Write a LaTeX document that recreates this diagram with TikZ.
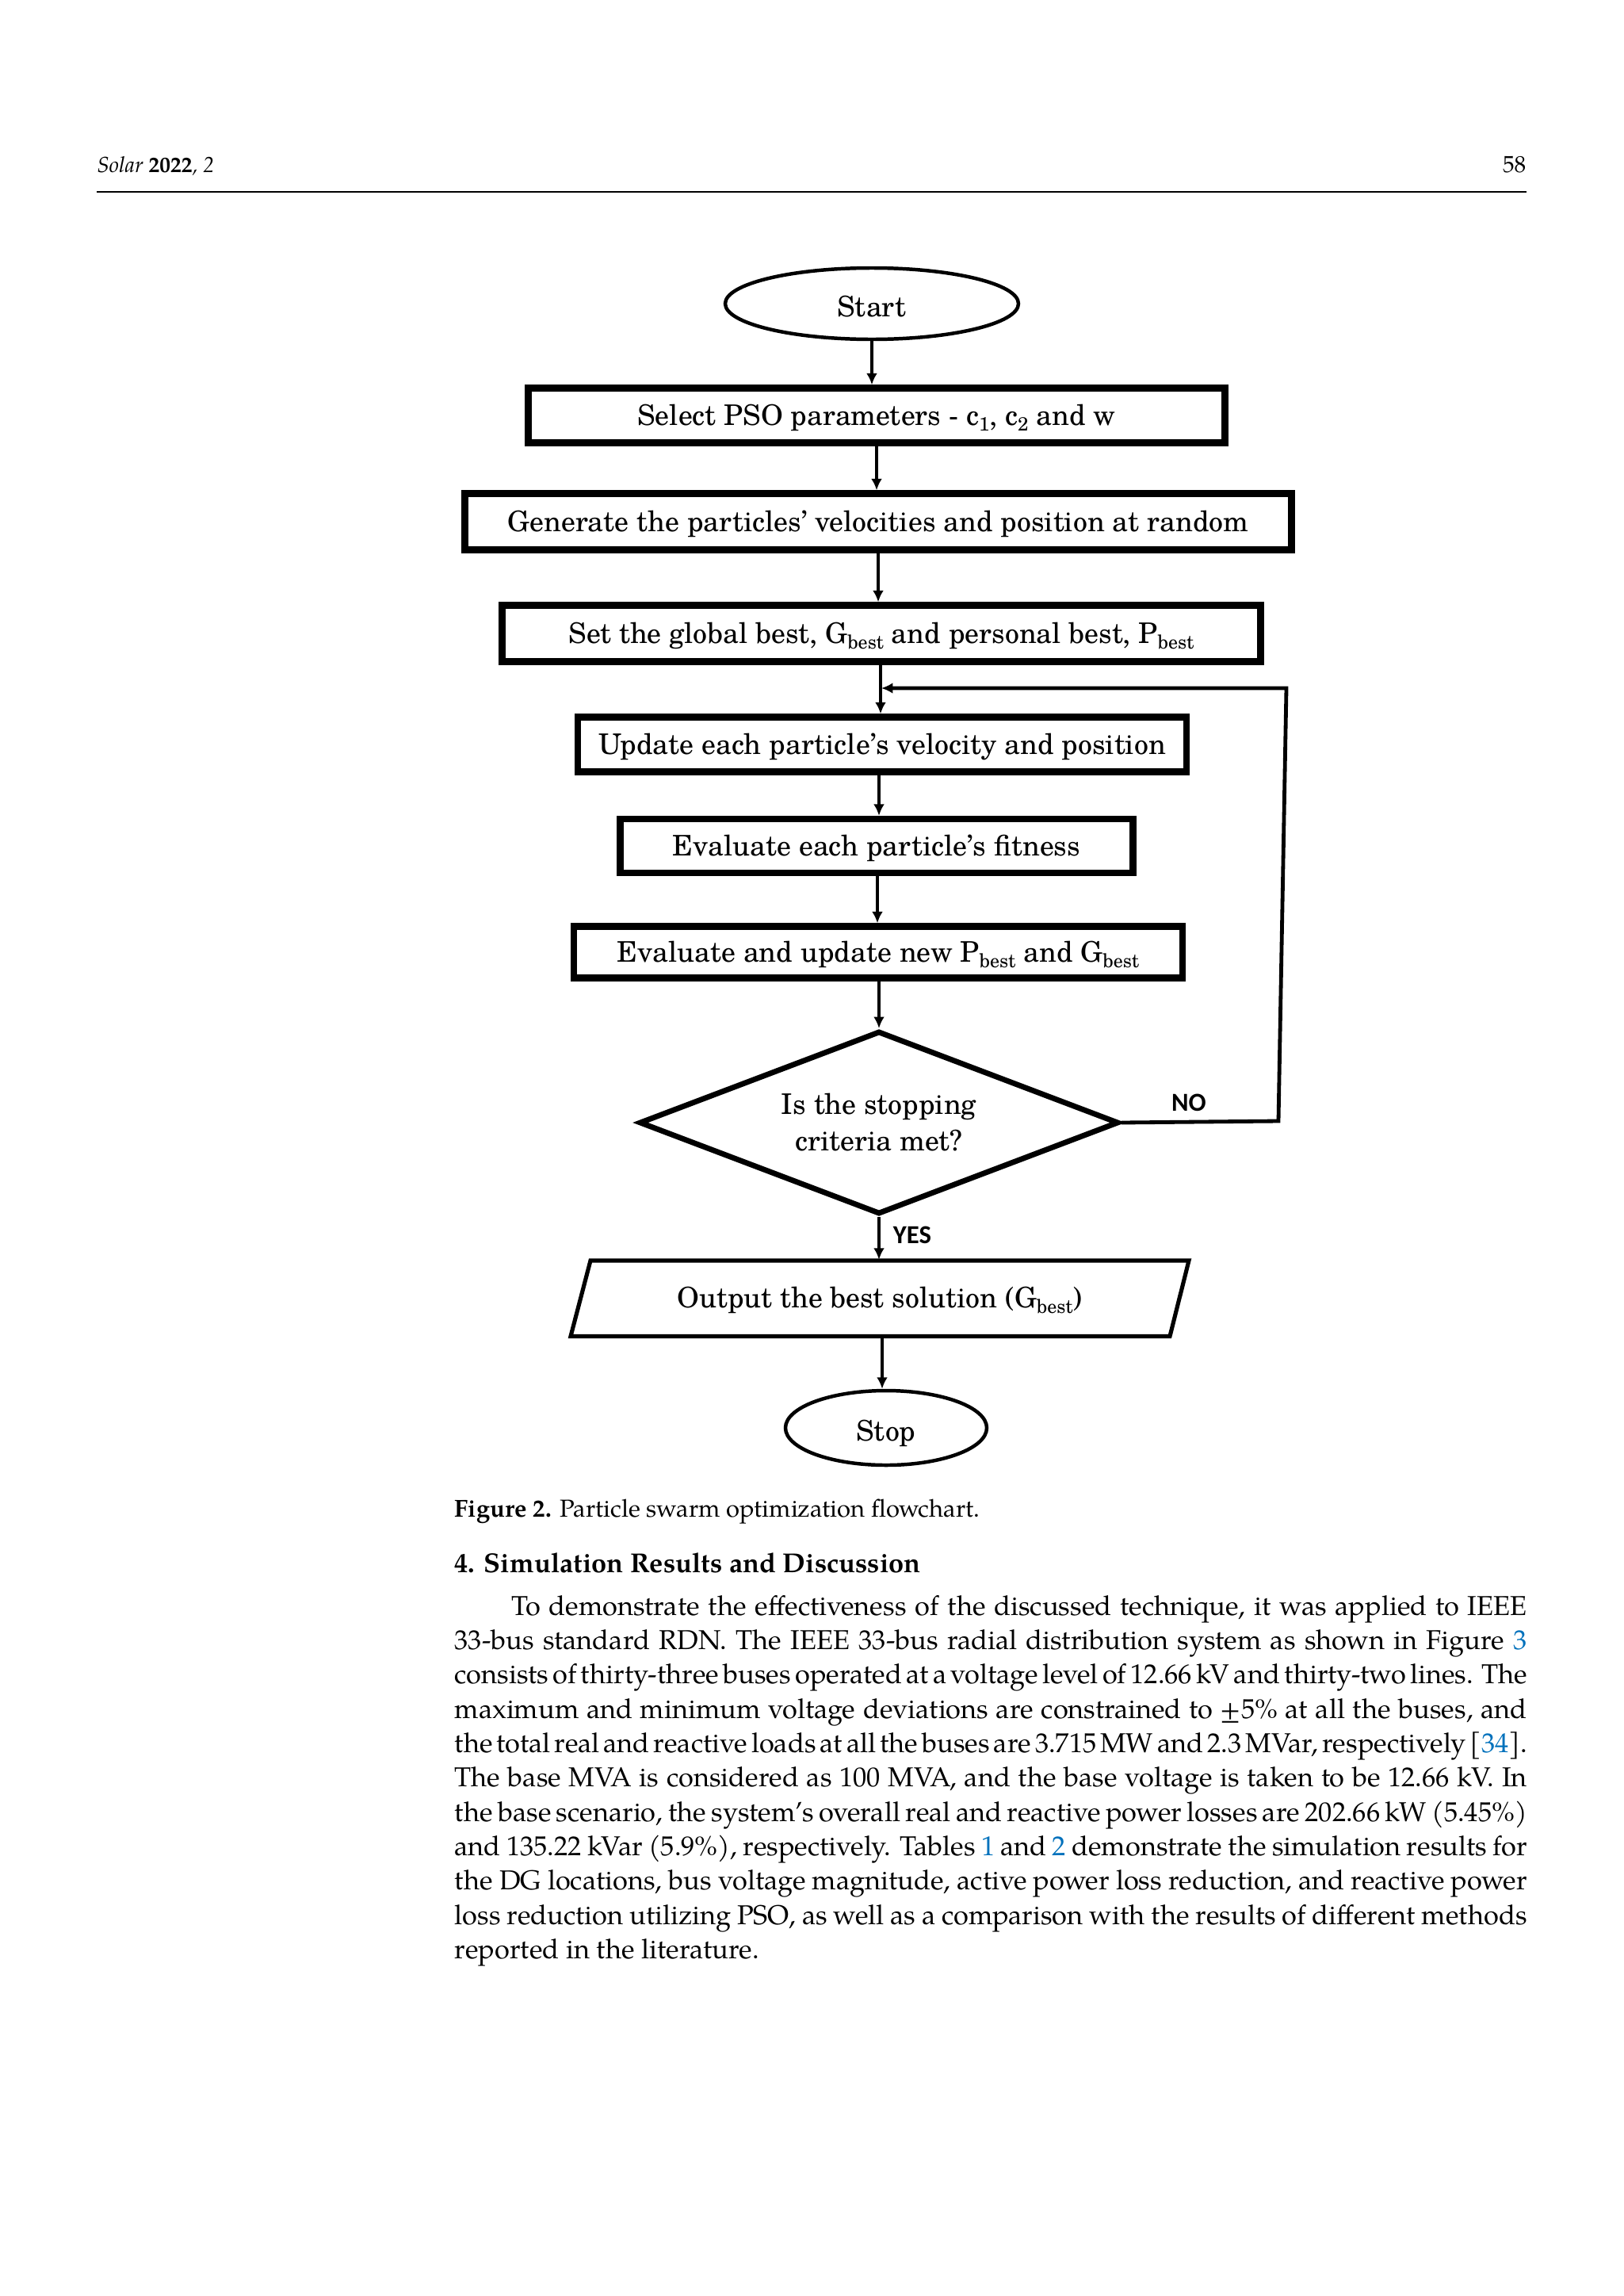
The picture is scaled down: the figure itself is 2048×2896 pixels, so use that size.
\documentclass[tikz,border=0pt]{standalone}
\usepackage{fontspec}
\setmainfont{TeX Gyre Pagella}
\newfontfamily\schola{TeX Gyre Schola}
\newfontfamily\carl{Carlito}
\usetikzlibrary{shapes.geometric,arrows.meta}
\definecolor{refblue}{RGB}{0,113,188}
\def\pxu{0.29066pt}
\newcommand\sbs[1]{\raisebox{-0.4ex}{\fontsize{7}{7}\selectfont #1}}
\newcommand\bodysp{\spaceskip=0.25em plus 0.3em minus 0.11em\relax}
\newcommand\fullline[1]{\makebox[393.3pt][s]{\bodysp #1}}
\newcommand\indline[1]{\makebox[372.3pt][s]{\bodysp #1}}
\newcommand\rf[1]{\textcolor{refblue}{#1}}
\begin{document}
\begin{tikzpicture}[x=0.29066pt,y=-0.29066pt,
  ffont/.style={font=\schola\fontsize{10.4}{12}\selectfont, text height=7.2pt, text depth=0pt},
  fbox/.style={draw, line width=2.4pt, inner sep=0pt, ffont},
  term/.style={draw, ellipse, line width=1.3pt, inner sep=0pt, ffont, text height=9.4pt},
  conn/.style={line width=1.1pt, -{Latex[length=4.2pt,width=4pt]}},
  lbl/.style={font=\carl\bfseries\fontsize{9.5}{10}\selectfont, inner sep=0pt},
  txt/.style={anchor=base west, inner sep=0pt},
  bodyf/.style={txt, font=\fontsize{10}{12}\selectfont}]
\useasboundingbox[fill=white] (0,0) rectangle (2048,2896);

% header
\node[txt, font=\fontsize{8}{9}\selectfont] (hdl) at (122,217) {\textit{Solar} \textbf{2022}\textit{, 2}};
\node[anchor=base east, inner sep=0pt, font=\fontsize{8.5}{9}\selectfont] (hdr) at (1926,217) {58};
\draw[line width=0.6pt] (122,242) -- (1926,242);

% flowchart
\node[term, minimum width={370*\pxu}, minimum height={90*\pxu}] (start) at (1100,383) {Start};
\node[fbox, minimum width={879*\pxu}, minimum height={69*\pxu}] (b1) at (1106,524) {Select PSO parameters - c\sbs{1}, c\sbs{2} and w};
\node[fbox, minimum width={1043*\pxu}, minimum height={71*\pxu}] (b2) at (1108,658) {Generate the particles’ velocities and position at random};
\node[fbox, minimum width={957*\pxu}, minimum height={71*\pxu}] (b3) at (1112,799) {Set the global best, G\sbs{best} and personal best, P\sbs{best}};
\node[fbox, minimum width={768*\pxu}, minimum height={69*\pxu}] (b4) at (1113,939) {Update each particle’s velocity and position};
\node[fbox, minimum width={647*\pxu}, minimum height={68*\pxu}] (b5) at (1106,1067) {Evaluate each particle’s fitness};
\node[fbox, minimum width={768*\pxu}, minimum height={65*\pxu}] (b6) at (1108,1201) {Evaluate and update new P\sbs{best} and G\sbs{best}};
\node[draw, diamond, line width=2pt, inner sep=0pt, shape aspect=2.6,
      minimum width={605*\pxu}, minimum height={231*\pxu}, align=center,
      font=\schola\fontsize{10.4}{13.4}\selectfont] (dia) at (1109,1416) {Is the stopping\\criteria met?};
\node[inner sep=0pt, minimum width={760*\pxu}, minimum height={96*\pxu}, ffont] (out) at (1110,1637.5) {Output the best solution (G\sbs{best})};
\draw[line width=1.5pt, line join=miter] (745,1590) -- (1500,1590) -- (1476,1685.5) -- (720,1685.5) -- cycle;
\node[term, minimum width={254*\pxu}, minimum height={94*\pxu}] (stop) at (1118,1801) {Stop};

\draw[conn] (start.south) -- (start.south |- b1.north);
\draw[conn] (b1.south) -- (b1.south |- b2.north);
\draw[conn] (b2.south) -- (b2.south |- b3.north);
\draw[conn] (b3.south -| 1111,0) -- (1111,0 |- b4.north);
\draw[conn] (b4.south -| 1109,0) -- (1109,0 |- b5.north);
\draw[conn] (b5.south -| 1107,0) -- (1107,0 |- b6.north);
\draw[conn] (b6.south -| 1109,0) -- (dia.north);
\draw[conn] (dia.south) -- (dia.south |- out.north);
\draw[conn] (out.south -| 1113,0) -- (1113,0 |- stop.north);

\coordinate (nob) at (1613,1414);
\coordinate (not) at (1623,868);
\coordinate (join) at (1112,868);
\draw[conn, line width=1.4pt] (dia.east) -- (nob) -- (not) -- (join);
\node[lbl] (no) at (1500,1391) {NO};
\node[lbl] (yes) at (1151,1558) {YES};

% caption and text
\node[txt, font=\fontsize{9}{10}\selectfont] (cap) at (573,1913) {\textbf{Figure 2.} Particle swarm optimization flowchart.};
\node[txt, font=\bfseries\fontsize{10}{12}\selectfont] (sec) at (573,1983) {4. Simulation Results and Discussion};

\node[bodyf] (l1) at (645,2037) {\indline{To demonstrate the effectiveness of the discussed technique, it was applied to IEEE}};
\node[bodyf] (l2) at (573,2080) {\fullline{33-bus standard RDN. The IEEE 33-bus radial distribution system as shown in Figure \rf{3}}};
\node[bodyf] (l3) at (573,2123) {\fullline{consists of thirty-three buses operated at a voltage level of 12.66 kV and thirty-two lines. The}};
\node[bodyf] (l4) at (573,2167) {\fullline{maximum and minimum voltage deviations are constrained to ±5\% at all the buses, and}};
\node[bodyf] (l5) at (573,2210) {\fullline{the total real and reactive loads at all the buses are 3.715 MW and 2.3 MVar, respectively [\rf{34}].}};
\node[bodyf] (l6) at (573,2253) {\fullline{The base MVA is considered as 100 MVA, and the base voltage is taken to be 12.66 kV. In}};
\node[bodyf] (l7) at (573,2297) {\fullline{the base scenario, the system’s overall real and reactive power losses are 202.66 kW (5.45\%)}};
\node[bodyf] (l8) at (573,2340) {\fullline{and 135.22 kVar (5.9\%), respectively. Tables \rf{1} and \rf{2} demonstrate the simulation results for}};
\node[bodyf] (l9) at (573,2383) {\fullline{the DG locations, bus voltage magnitude, active power loss reduction, and reactive power}};
\node[bodyf] (l10) at (573,2427) {\fullline{loss reduction utilizing PSO, as well as a comparison with the results of different methods}};
\node[bodyf] (l11) at (573,2470) {reported in the literature.};
\end{tikzpicture}
\end{document}
